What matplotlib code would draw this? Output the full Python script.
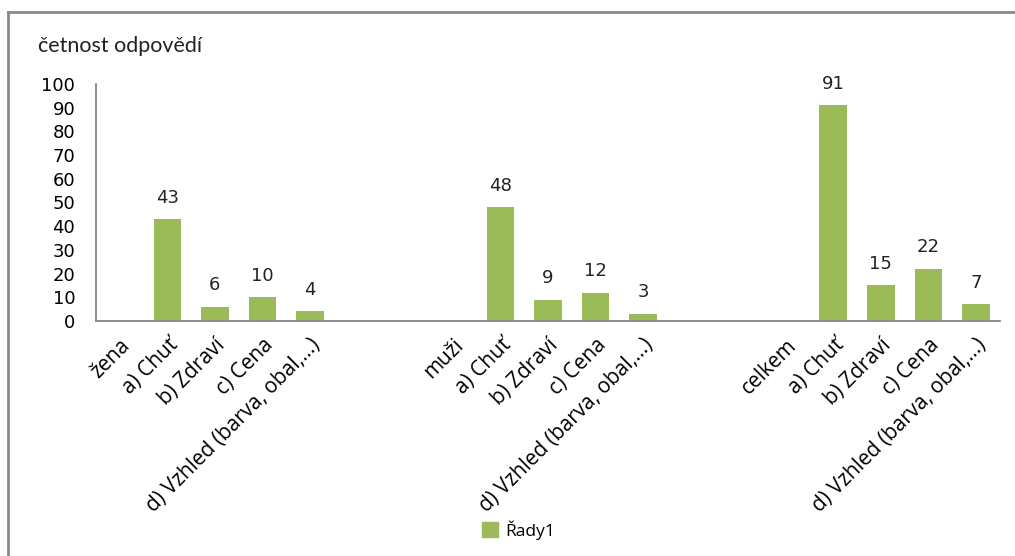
import numpy as np
import matplotlib.pyplot as plt
from matplotlib.lines import Line2D
from matplotlib.patches import Patch

# categories along the x axis (empty strings are spacer slots between groups)
categories = ["žena", "a) Chuť", "b) Zdraví", "c) Cena", "d) Vzhled (barva, obal,...)", "", "",
              "muži", "a) Chuť", "b) Zdraví", "c) Cena", "d) Vzhled (barva, obal,...)", "", "",
              "celkem", "a) Chuť", "b) Zdraví", "c) Cena", "d) Vzhled (barva, obal,...)"]
counts = [None, 43, 6, 10, 4, None, None,
          None, 48, 9, 12, 3, None, None,
          None, 91, 15, 22, 7]
yticks = [0, 10, 20, 30, 40, 50, 60, 70, 80, 90, 100]

green = "#9BBB59"
axis_gray = "#868686"
label_font = ["Open Sans", "DejaVu Sans"]

fig = plt.figure(figsize=(10.15, 5.56), dpi=100)
ax = fig.add_axes([0.0946, 0.4227, 0.8904, 0.4263])

x = np.arange(len(categories))
idx = [i for i, v in enumerate(counts) if v is not None]
vals = [counts[i] for i in idx]
bars = ax.bar(idx, vals, width=0.58, color=green, zorder=2)

for b, v in zip(bars, vals):
    ax.annotate(str(v), (b.get_x() + b.get_width() / 2, v), xytext=(0, 9),
                textcoords="offset points", ha="center", va="bottom",
                fontsize=13, family="DejaVu Sans", color="#222222")

ax.set_xlim(-0.5, len(categories) - 0.5)
ax.set_ylim(0, 100)
ax.set_yticks(yticks)
ax.set_yticklabels([str(t) for t in yticks], fontsize=13, family="DejaVu Sans")
ax.tick_params(axis="y", length=0, pad=15)
ax.tick_params(axis="x", length=0, pad=10)

ax.set_xticks(x)
ax.set_xticklabels(categories, rotation=45, ha="right", va="top",
                   rotation_mode="anchor", fontsize=15, family=label_font)

for side in ["top", "right"]:
    ax.spines[side].set_visible(False)
for side in ["left", "bottom"]:
    ax.spines[side].set_color(axis_gray)
    ax.spines[side].set_linewidth(1.3)

fig.text(0.037, 0.918, "četnost odpovědí", fontsize=15.5, family=["Lato", "DejaVu Sans"],
         ha="left", va="center", color="#222222")

fig.legend(handles=[Patch(color=green, label="Řady1")], loc="center",
           bbox_to_anchor=(0.511, 0.047), frameon=False,
           handlelength=0.9, handleheight=0.9, handletextpad=0.4,
           prop={"family": label_font, "size": 12.5})

# outer chart frame (top and left edges)
fig.add_artist(Line2D([0.008, 1.0], [0.978, 0.978], color="#8a8a8a", lw=2,
                      transform=fig.transFigure))
fig.add_artist(Line2D([0.008, 0.008], [0.0, 0.978], color="#8a8a8a", lw=2,
                      transform=fig.transFigure))

fig.savefig("out.png", dpi=100)
